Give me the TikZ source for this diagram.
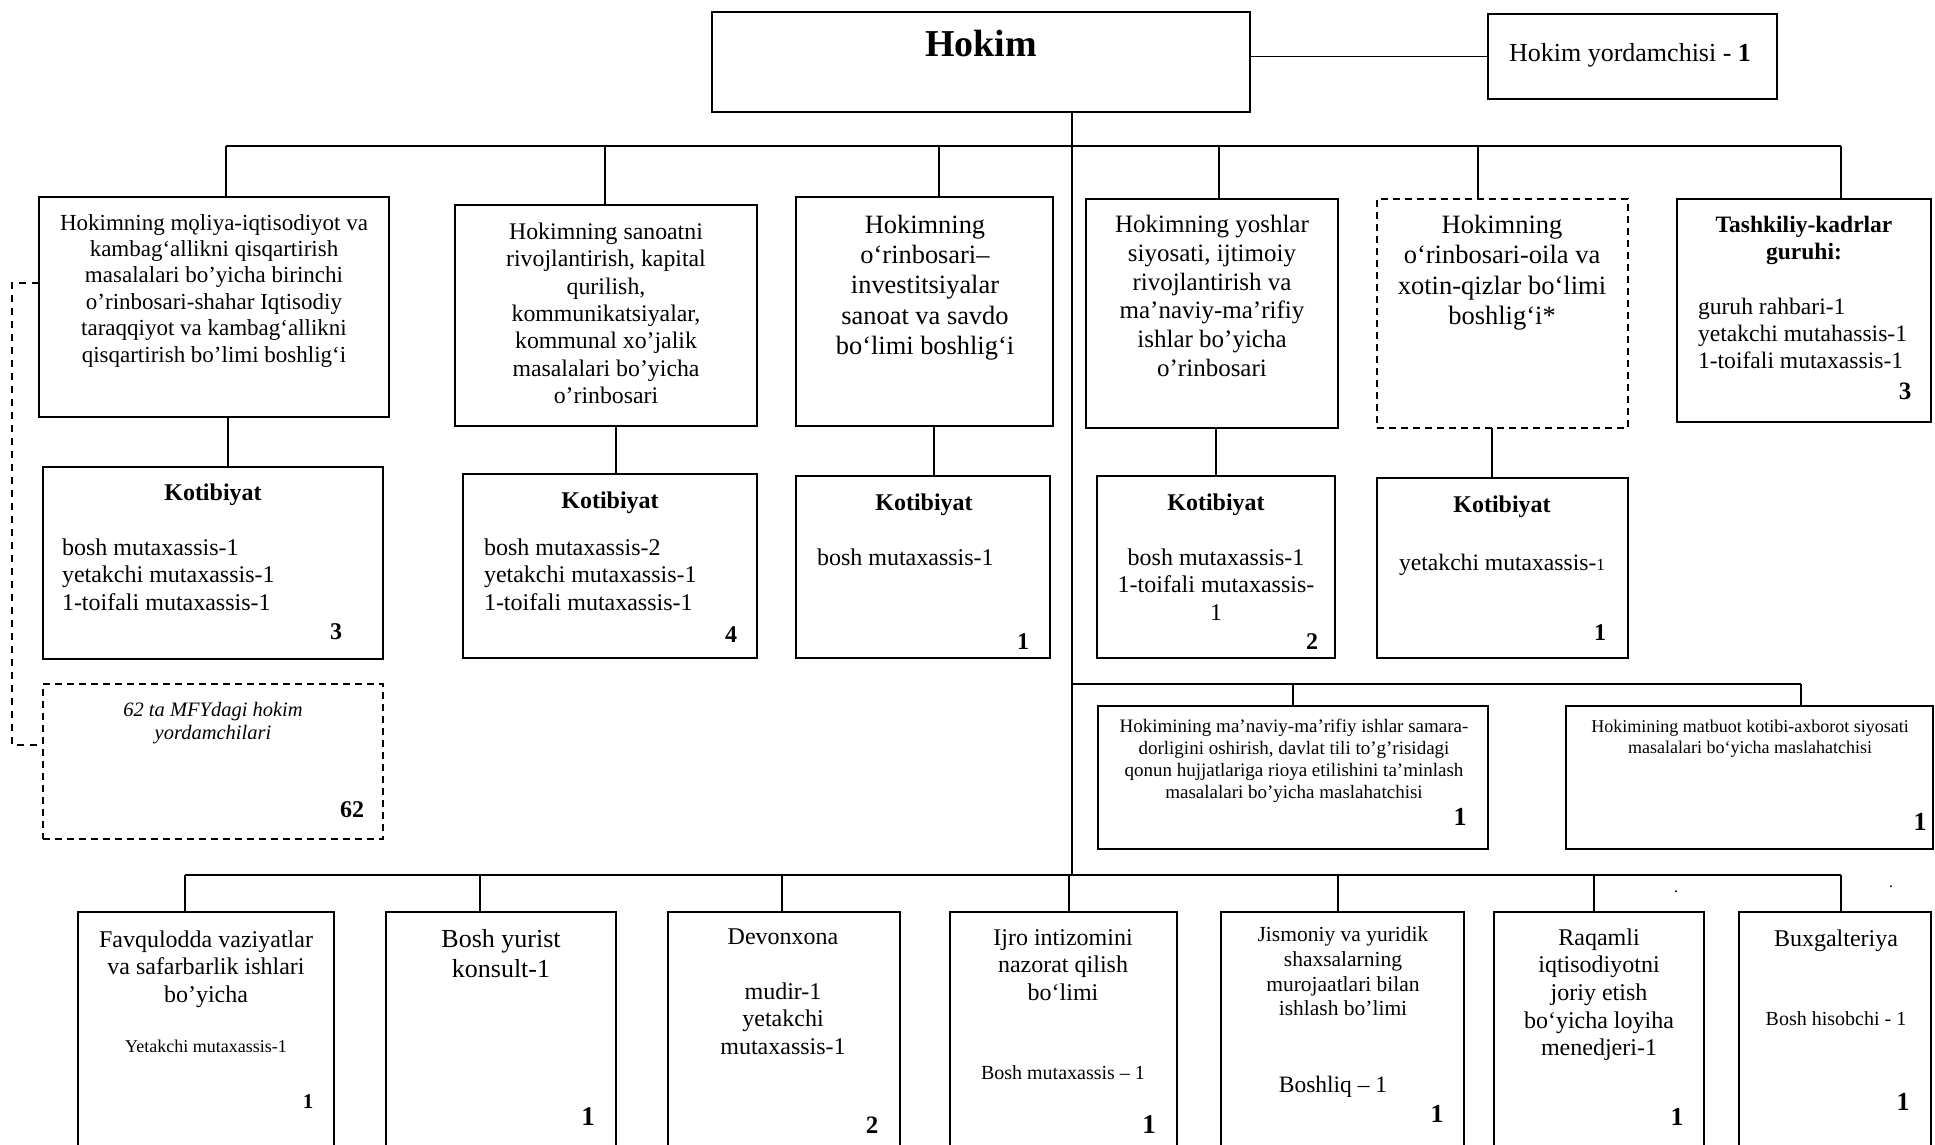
\documentclass[tikz,border=0pt]{standalone}
\usepackage{fontspec}
\setmainfont{Liberation Serif}
\tikzset{
  box/.style={draw, line width=1.8pt, inner sep=0pt, outer sep=0pt, rectangle},
  dbox/.style={dash pattern=on 7pt off 5pt, line width=1.6pt},
  conn/.style={line width=1.3pt},
  dconn/.style={line width=1.3pt, dash pattern=on 7pt off 6pt},
  txt/.style={inner sep=0pt, outer sep=0pt, anchor=north, align=center},
}
\newcommand\BX[6][]{\node[box,#1,minimum width={(#4)-(#2)},minimum height={(#5)-(#3)}] (#6) at ({((#2)+(#4))/2},{((#3)+(#5))/2}) {};}
\newcommand\TXT[5]{\node[txt,font=\fontsize{#4}{#4}\linespread{1.15}\selectfont] (#1) at ({#2},{(#3)-0.5*(#4)}) {\strut #5};}
\newcommand\TXTL[5]{\node[txt,anchor=north west,align=left,font=\fontsize{#4}{#4}\linespread{1.15}\selectfont] (#1) at ({#2},{(#3)-0.5*(#4)}) {\strut #5};}
\begin{document}
\begin{tikzpicture}[x=1pt,y=-1pt]
\useasboundingbox (0,0) rectangle (1935,1144);
\fill[white] (0,0) rectangle (1935,1144);
\clip (0,0) rectangle (1935,1144);

% ---------- top level
\BX{712}{12}{1250}{112}{hokim}
\BX{1488}{14}{1777}{99}{yord}
\TXT{tHokim}{981}{45}{38}{\textbf{Hokim}}
\TXT{tYord}{1630}{54}{26}{Hokim yordamchisi - \textbf{1}}
\draw[conn] (hokim.east |- yord.west) -- (yord.west);

\coordinate (trk) at (1072,146);
\coordinate (busL) at (226,146);
\coordinate (busR) at (1841,146);
\coordinate (trkb) at (1072,875);
\draw[conn] (hokim.south -| trk) -- (trkb);
\draw[conn] (busL) -- (busR);

% ---------- deputies row
\BX{39}{197}{389}{417}{A}
\BX{455}{205}{757}{426}{B}
\BX{796}{197}{1053}{426}{C}
\BX{1086}{199}{1338}{428}{D}
\BX[dbox]{1377}{199}{1628}{428}{E}
\BX{1677}{199}{1931}{422}{F}

\coordinate (tA) at (226,146);
\coordinate (tB) at (605,146);
\coordinate (tC) at (939,146);
\coordinate (tD) at (1219,146);
\coordinate (tE) at (1478,146);
\coordinate (tF) at (1841,146);
\foreach \n in {A,B,C,D,E,F}{\draw[conn] (t\n) -- (t\n |- \n.north);}

\TXT{txA}{214}{223}{23}{Hokimning mǫliya-iqtisodiyot va\\kambag‘allikni qisqartirish\\masalalari bo’yicha birinchi\\o’rinbosari-shahar Iqtisodiy\\taraqqiyot va kambag‘allikni\\qisqartirish bo’limi boshlig‘i}
\TXT{txB}{606}{232}{23.8}{Hokimning sanoatni\\rivojlantirish, kapital\\qurilish,\\kommunikatsiyalar,\\kommunal xo’jalik\\masalalari bo’yicha\\o’rinbosari}
\TXT{txC}{925}{225}{26.4}{Hokimning\\o‘rinbosari–\\investitsiyalar\\sanoat va savdo\\bo‘limi boshlig‘i}
\TXT{txD}{1212}{225}{25}{Hokimning yoshlar\\siyosati, ijtimoiy\\rivojlantirish va\\ma’naviy-ma’rifiy\\ishlar bo’yicha\\o’rinbosari}
\TXT{txE}{1502}{225}{26.5}{Hokimning\\o‘rinbosari-oila va\\xotin-qizlar bo‘limi\\boshlig‘i*}
\TXT{txF}{1804}{225}{23.5}{\textbf{Tashkiliy-kadrlar}\\\textbf{guruhi:}}
\TXTL{txF2}{1698}{307}{23.6}{guruh rahbari-1\\yetakchi mutahassis-1\\1-toifali mutaxassis-1}
\TXT{nF}{1905}{392}{25}{\textbf{3}}

% ---------- Kotibiyat row
\BX{43}{467}{383}{659}{KA}
\BX{463}{474}{757}{658}{KB}
\BX{796}{476}{1050}{658}{KC}
\BX{1097}{476}{1335}{658}{KD}
\BX{1377}{478}{1628}{658}{KE}

\coordinate (kA) at (228,442);
\coordinate (kB) at (616,450);
\coordinate (kC) at (934,450);
\coordinate (kD) at (1216,450);
\coordinate (kE) at (1492,450);
\foreach \n in {A,B,C,D,E}{\draw[conn] (\n.south -| k\n) -- (K\n.north -| k\n);}

\TXT{hKA}{213}{493}{24}{\textbf{Kotibiyat}}
\TXTL{xKA}{62}{548}{24}{bosh mutaxassis-1\\yetakchi mutaxassis-1\\1-toifali mutaxassis-1}
\TXT{nKA}{336}{632}{24}{\textbf{3}}

\TXT{hKB}{610}{501}{24}{\textbf{Kotibiyat}}
\TXTL{xKB}{484}{548}{24}{bosh mutaxassis-2\\yetakchi mutaxassis-1\\1-toifali mutaxassis-1}
\TXT{nKB}{731}{635}{24}{\textbf{4}}

\TXT{hKC}{924}{503}{24}{\textbf{Kotibiyat}}
\TXTL{xKC}{817}{558}{24}{bosh mutaxassis-1}
\TXT{nKC}{1023}{642}{24}{\textbf{1}}

\TXT{hKD}{1216}{503}{24}{\textbf{Kotibiyat}}
\TXT{xKD}{1216}{558}{24}{bosh mutaxassis-1\\1-toifali mutaxassis-\\1}
\TXT{nKD}{1312}{642}{24}{\textbf{2}}

\TXT{hKE}{1502}{505}{24}{\textbf{Kotibiyat}}
\TXT{xKE}{1502}{563}{23.6}{yetakchi mutaxassis-{\fontsize{17}{17}\selectfont 1}}
\TXT{nKE}{1600}{633}{24}{\textbf{1}}

% ---------- MFY assistants (dashed)
\BX[dbox]{43}{684}{383}{839}{G}
\coordinate (dl1) at (12,283);
\coordinate (dl2) at (12,745);
\draw[dconn] (A.west |- dl1) -- (dl1) -- (dl2) -- (G.west |- dl2);
\TXT{txG}{213}{710}{20.5}{\textit{62 ta MFYdagi hokim}\\\textit{yordamchilari}}
\TXT{nG}{352}{810}{24}{\textbf{62}}

% ---------- advisers
\coordinate (m0) at (1072,684);
\coordinate (m1) at (1801,684);
\draw[conn] (m0) -- (m1);
\BX{1098}{706}{1488}{849}{H}
\BX{1566}{706}{1933}{849}{I}
\draw[conn] (m0 -| H.north) -- (H.north);
\draw[conn] (m1) -- (m1 |- I.north);
\TXT{txH}{1294}{727}{19}{Hokimining ma’naviy-ma’rifiy ishlar samara-\\dorligini oshirish, davlat tili to’g’risidagi\\qonun hujjatlariga rioya etilishini ta’minlash\\masalalari bo’yicha maslahatchisi}
\TXT{nH}{1460}{818}{26}{\textbf{1}}
\TXT{txI}{1750}{727}{18}{Hokimining matbuot kotibi-axborot siyosati\\masalalari bo‘yicha maslahatchisi}
\TXT{nI}{1920}{823}{26}{\textbf{1}}

% ---------- bottom row
\coordinate (b0) at (185,875);
\coordinate (b1) at (1841,875);
\draw[conn] (b0) -- (b1);
\BX{78}{912}{334}{1170}{J}
\BX{386}{912}{616}{1170}{K}
\BX{668}{912}{900}{1170}{L}
\BX{950}{912}{1177}{1170}{M}
\BX{1221}{912}{1464}{1170}{N}
\BX{1494}{912}{1704}{1170}{O}
\BX{1739}{912}{1931}{1170}{P}
\coordinate (bJ) at (185,875);
\coordinate (bK) at (480,875);
\coordinate (bL) at (782,875);
\coordinate (bM) at (1069,875);
\coordinate (bN) at (1338,875);
\coordinate (bO) at (1594,875);
\coordinate (bP) at (1841,875);
\foreach \n in {J,K,L,M,N,O,P}{\draw[conn] (b\n) -- (b\n |- \n.north);}

\TXT{txJ}{206}{940}{24}{Favqulodda vaziyatlar\\va safarbarlik ishlari\\bo’yicha}
\TXT{txJ2}{206}{1047}{18}{Yetakchi mutaxassis-1}
\TXT{nJ}{308}{1102}{21}{\textbf{1}}

\TXT{txK}{501}{940}{26}{Bosh yurist\\konsult-1}
\TXT{nK}{588}{1117}{27}{\textbf{1}}

\TXT{txL}{783}{937}{24}{Devonxona}
\TXT{txL2}{783}{992}{24}{mudir-1\\yetakchi\\mutaxassis-1}
\TXT{nL}{872}{1126}{25}{\textbf{2}}

\TXT{txM}{1063}{938}{24}{Ijro intizomini\\nazorat qilish\\bo‘limi}
\TXT{txM2}{1063}{1073}{20}{Bosh mutaxassis – 1}
\TXT{nM}{1149}{1125}{27}{\textbf{1}}

\TXT{txN}{1343}{935}{21.5}{Jismoniy va yuridik\\shaxsalarning\\murojaatlari bilan\\ishlash bo’limi}
\TXT{txN2}{1333}{1085}{23.5}{Boshliq – 1}
\TXT{nN}{1437}{1115}{26}{\textbf{1}}

\TXT{txO}{1599}{938}{24}{Raqamli\\iqtisodiyotni\\joriy etish\\bo‘yicha loyiha\\menedjeri-1}
\TXT{nO}{1677}{1118}{26}{\textbf{1}}

\TXT{txP}{1836}{939}{24}{Buxgalteriya}
\TXT{txP2}{1836}{1019}{20}{Bosh hisobchi - 1}
\TXT{nP}{1903}{1103}{26}{\textbf{1}}

\TXT{dot1}{1676}{888}{16}{.}
\TXT{dot2}{1891}{883}{16}{.}
\end{tikzpicture}
\end{document}
